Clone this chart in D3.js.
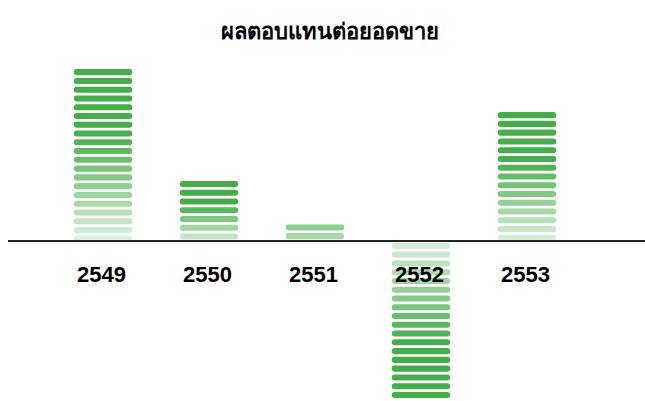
<!DOCTYPE html>
<html>
<head>
<meta charset="utf-8">
<script src="https://cdn.jsdelivr.net/npm/d3@7"></script>
<style>
  body { margin: 0; background: #fff; }
  svg { display: block; font-family: "Liberation Sans", Arial, "Noto Sans", sans-serif; }
</style>
</head>
<body>
<div id="chart"></div>
<script>
// data
var years = ["2549", "2550", "2551", "2552", "2553"];
var values = [19.6, 6.85, 1.9, -17.9, 14.7];
var title = "ผลตอบแทนต่อยอดขาย";

var width = 645, height = 401;
var svg = d3.select("#chart").append("svg")
    .attr("width", width)
    .attr("height", height);

// x: one band per year
var x = d3.scaleBand()
    .domain(years)
    .range([50, 580])
    .paddingInner(0.448)
    .paddingOuter(0.224);

// y: one unit = one stripe
var y = d3.scaleLinear()
    .domain([-20, 20])
    .range([416.4, 65.6]);

var green = d3.rgb(69, 173, 74);
var segH = 0.69; // stripe thickness in units

// title
svg.append("text")
    .attr("x", 330)
    .attr("y", 39)
    .attr("text-anchor", "middle")
    .style("font-size", "22px")
    .style("font-weight", "bold")
    .text(title);

var defs = svg.append("defs");

var bars = svg.selectAll(".bar")
  .data(years.map(function(d, i) { return {year: d, value: values[i]}; }))
  .enter().append("g")
    .attr("class", "bar");

bars.each(function(d, i) {
  var g = d3.select(this);
  var top = Math.min(y(d.value), y(0)),
      bot = Math.max(y(d.value), y(0));
  // clip stripes at the baseline
  defs.append("clipPath").attr("id", "clip" + i)
    .append("rect")
      .attr("x", x(d.year) - 1)
      .attr("y", top)
      .attr("width", x.bandwidth() + 2)
      .attr("height", bot - top);
  var n = Math.ceil(Math.abs(d.value));
  var sign = d.value < 0 ? -1 : 1;
  var strength = Math.min(1, Math.abs(d.value) / 3.5);
  var segs = d3.range(n).map(function(k) {
    // k = 0 at the tip
    var tip = d.value - sign * k;
    var frac = Math.max(0, (Math.abs(d.value) - k) / Math.abs(d.value));
    return {a: tip, b: tip - sign * segH, frac: frac};
  });
  g.append("g")
    .attr("clip-path", "url(#clip" + i + ")")
    .selectAll("rect")
    .data(segs)
    .enter().append("rect")
      .attr("x", x(d.year))
      .attr("width", x.bandwidth())
      .attr("y", function(s) { return Math.min(y(s.a), y(s.b)); })
      .attr("height", function(s) { return Math.abs(y(s.a) - y(s.b)); })
      .attr("rx", 3)
      .style("fill", function(s) {
        var t = Math.min(1, s.frac / 0.65);
        var alpha = 0.15 + 0.85 * t * strength;
        return green.copy({opacity: alpha}).toString();
      });
});

// baseline
svg.append("line")
    .attr("x1", 8)
    .attr("x2", width)
    .attr("y1", y(0))
    .attr("y2", y(0))
    .style("stroke", "#222")
    .style("stroke-width", 2);

// year labels
svg.selectAll(".label")
  .data(years)
  .enter().append("text")
    .attr("class", "label")
    .attr("x", function(d) { return x(d) + x.bandwidth() / 2 - 1.5; })
    .attr("y", 282)
    .attr("text-anchor", "middle")
    .style("font-size", "22px")
    .style("font-weight", "bold")
    .text(function(d) { return d; });
</script>
</body>
</html>
